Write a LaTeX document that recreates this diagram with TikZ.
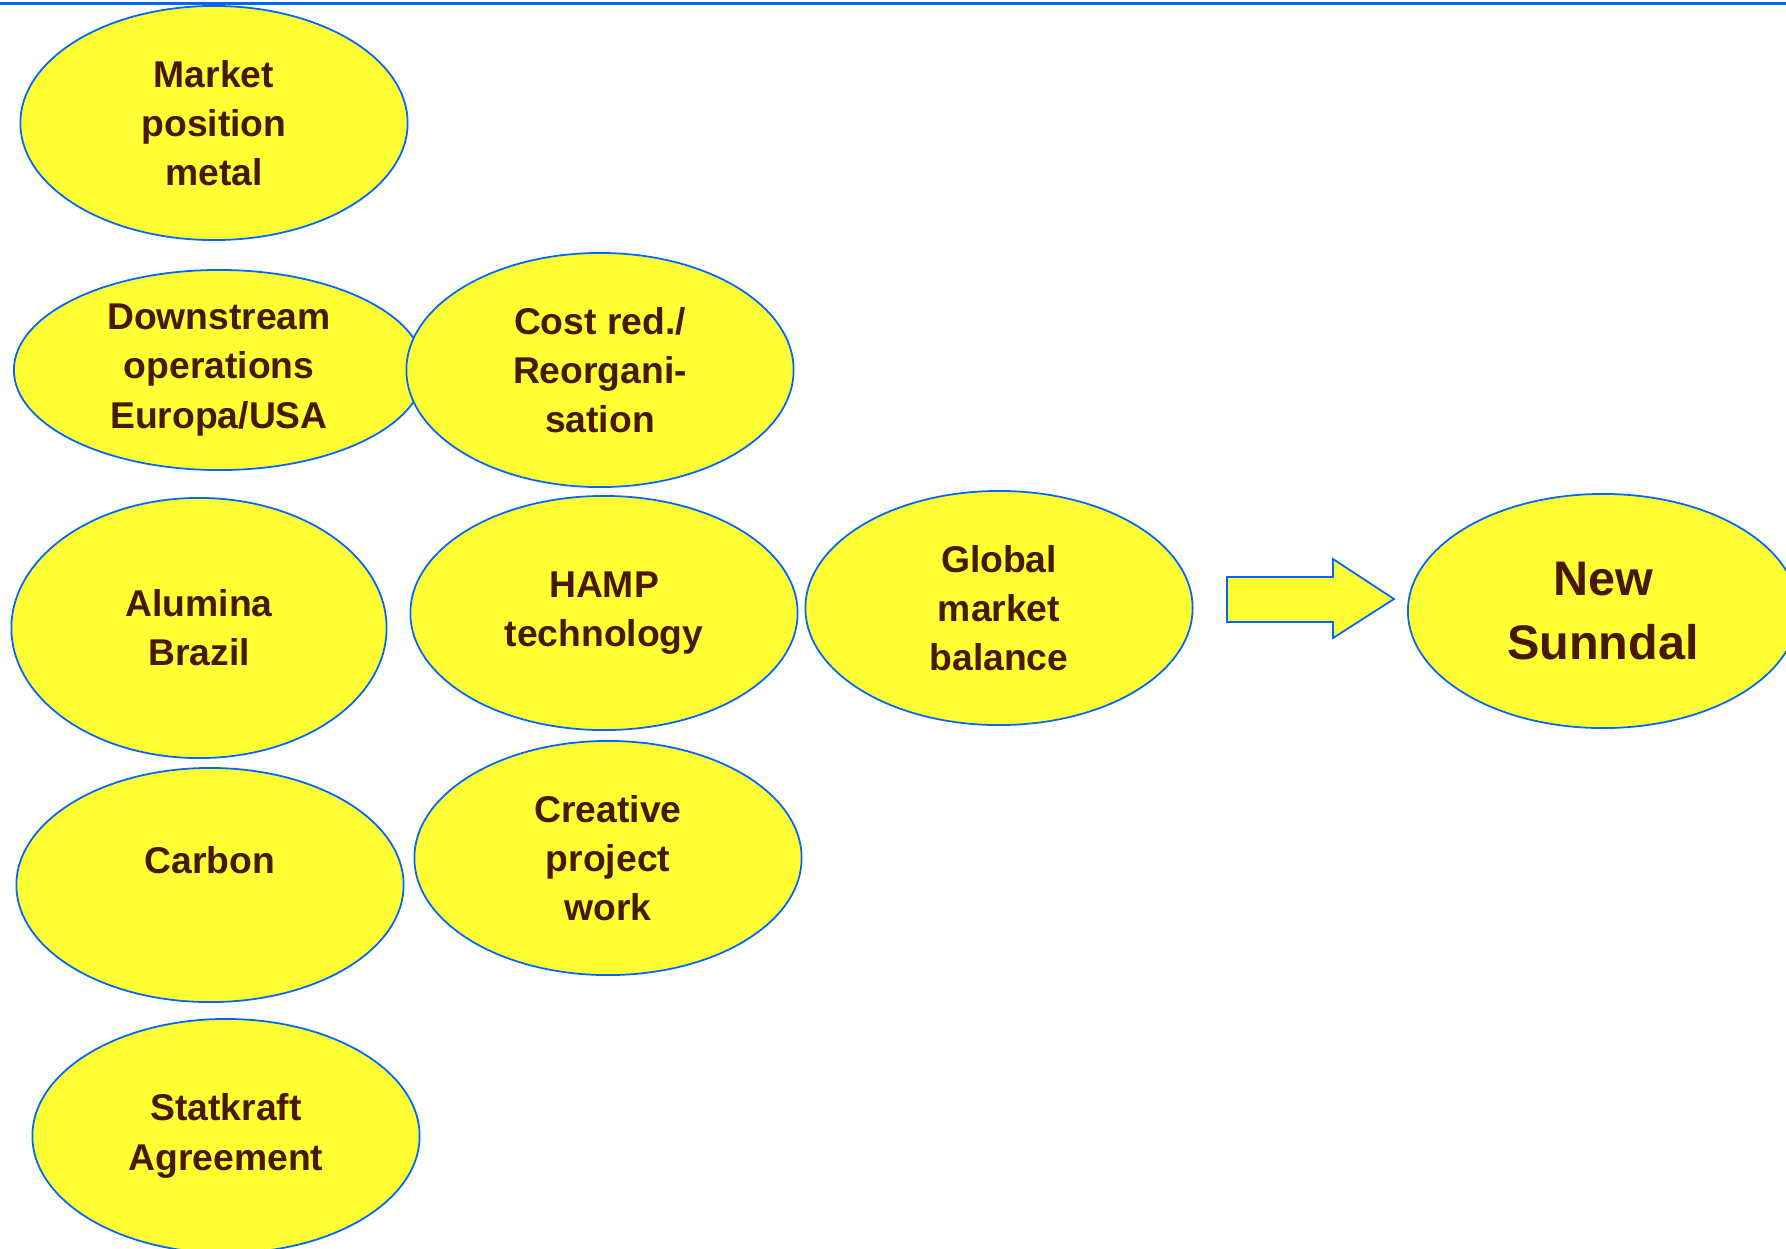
\documentclass[tikz,border=0pt]{standalone}
\usepackage{fontspec}
\setmainfont{Liberation Sans}
\usetikzlibrary{shapes.geometric}
\definecolor{bubblefill}{RGB}{255,255,51}
\definecolor{rimblue}{RGB}{0,102,255}
\definecolor{inkbrown}{RGB}{72,24,0}
\begin{document}
\begin{tikzpicture}[x=0.01cm, y=-0.01cm,
  every node/.style={ellipse, draw=rimblue, fill=bubblefill, line width=0.5pt, text=inkbrown,
    font=\fontsize{10.6}{14}\selectfont\bfseries, align=center, inner sep=0pt,
    minimum width=3.87cm, minimum height=2.34cm},
  bigtext/.style={font=\fontsize{13.8}{18}\selectfont\bfseries},
  blockarrow/.style={draw=rimblue, fill=bubblefill, line width=0.5pt},
]
\useasboundingbox (0,0) rectangle (1786,1248);
\clip (0,0) rectangle (1786,1248);
\draw[rimblue, line width=0.6pt] (0,3.5) -- (1786,3.5);
% left column
\node (market) at (214,123) {Market\\position\\metal};
\node[minimum width=4.1cm, minimum height=2.0cm] (downstream) at (219,370) {Downstream\\operations\\Europa/USA};
\node[minimum width=3.75cm, minimum height=2.6cm] (alumina) at (199,628) {Alumina\\Brazil};
\node (carbon) at (210,885) {Carbon\\\mbox{}};
\node (statkraft) at (226,1136) {Statkraft\\Agreement};
% middle column
\node (costred) at (600,370) {Cost red./\\Reorgani-\\sation};
\node (hamp) at (604,613) {HAMP\\technology};
\node (creative) at (608,858) {Creative\\project\\work};
% right side
\node (global) at (999,608) {Global\\market\\balance};
\node[bigtext, minimum width=3.9cm] (sunndal) at (1603,611) {New\\Sunndal};
\draw[blockarrow] (1227,577) -- (1333,577) -- (1333,559) -- (1394,599)
  -- (1333,638) -- (1333,622) -- (1227,622) -- cycle;
\end{tikzpicture}
\end{document}
